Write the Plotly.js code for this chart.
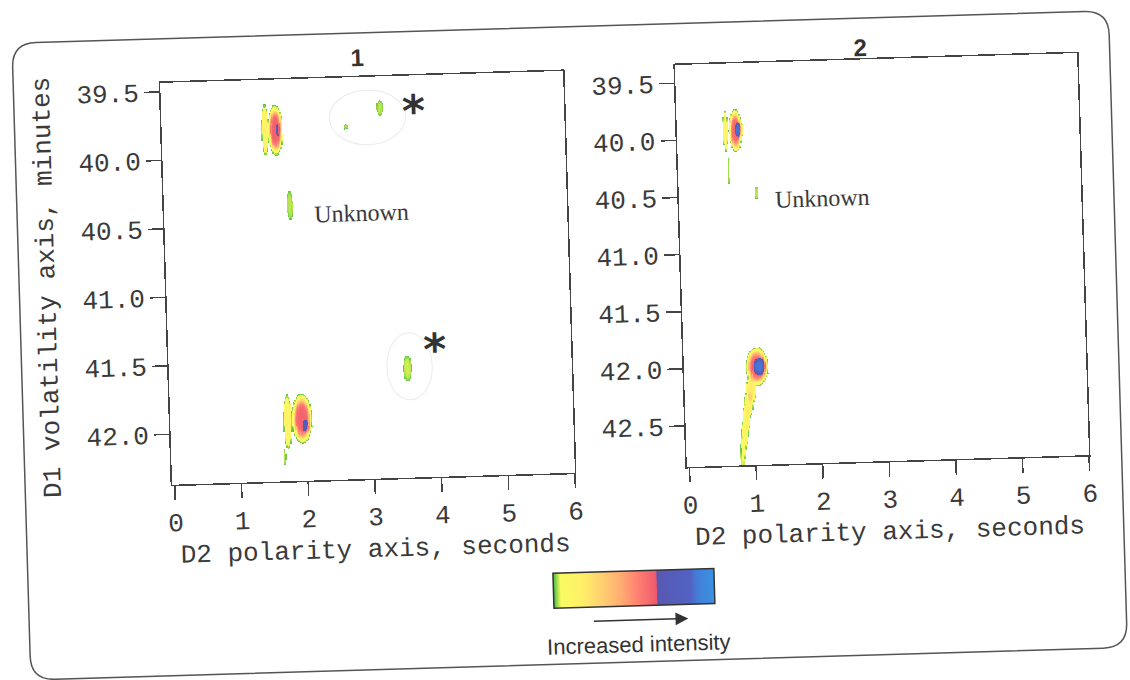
<!DOCTYPE html>
<html><head><meta charset="utf-8">
<script src="https://cdn.plot.ly/plotly-3.0.1.min.js"></script>
<style>
html,body{margin:0;padding:0;background:#fff;overflow:hidden;}
#chart{width:1130px;height:680px;transform:rotate(-1.7deg);transform-origin:565px 340px;}
</style></head><body><div id="chart"></div>
<script>
// ---- text ----
const panelTitles = ['1', '2'];
const xTitle = 'D2 polarity axis, seconds';
const yTitle = 'D1 volatility axis, minutes';
const peakLabel = 'Unknown';
const legendLabel = 'Increased intensity';

// ---- tick values ----
const xTickVals = [0, 1, 2, 3, 4, 5, 6];
const y1TickVals = [39.5, 40.0, 40.5, 41.0, 41.5, 42.0];
const y2TickVals = [39.5, 40.0, 40.5, 41.0, 41.5, 42.0, 42.5];

// ---- panel 1 peak components (D2 s, D1 min, spread D2, spread D1, relative intensity) ----
const p1X   = [1.665, 1.70, 1.51, 1.85, 3.24, 2.72, 3.54, 1.935, 2.00, 1.72, 1.665];
const p1Y   = [39.805, 39.80, 39.80, 40.355, 39.665, 39.796, 41.57, 41.915, 41.975, 41.935, 42.19];
const p1SX  = [0.08, 0.025, 0.041, 0.041, 0.041, 0.03, 0.052, 0.107, 0.05, 0.048, 0.014];
const p1SY  = [0.128, 0.04, 0.138, 0.09, 0.05, 0.016, 0.08, 0.128, 0.045, 0.148, 0.05];
const p1Amp = [0.62, 0.06, 0.15, 0.03, 0.03, 0.025, 0.035, 0.61, 0.15, 0.15, 0.03];

// ---- panel 2 peak components ----
const p2X   = [0.84, 0.89, 0.69, 0.72, 1.13, 1.06, 1.105, 0.96, 0.92, 0.88, 0.85, 0.82, 0.80];
const p2Y   = [39.93, 39.92, 39.93, 40.28, 40.48, 42.00, 42.00, 42.20, 42.32, 42.45, 42.58, 42.70, 42.82];
const p2SX  = [0.07, 0.05, 0.03, 0.012, 0.02, 0.12, 0.085, 0.055, 0.05, 0.045, 0.04, 0.033, 0.026];
const p2SY  = [0.13, 0.055, 0.14, 0.10, 0.05, 0.12, 0.065, 0.09, 0.09, 0.09, 0.09, 0.09, 0.08];
const p2Amp = [0.59, 0.3, 0.12, 0.025, 0.03, 0.59, 0.3, 0.2, 0.15, 0.12, 0.09, 0.06, 0.04];

// asterisk-marked peaks (D2, D1) for labels
const starX = [3.74, 3.95];
const starY = [39.613, 41.355];

const colorscale = [
  [0, '#3fb84a'], [0.025, '#a6df4a'], [0.045, '#fafa62'], [0.18, '#fff068'],
  [0.3, '#ffd070'], [0.42, '#ffac72'], [0.52, '#ff8272'], [0.64, '#ef5a6c'],
  [0.645, '#5858b2'], [0.85, '#5262c2'], [0.9, '#4280d8'], [1, '#3a92e2']
];

function grid(a, b, step) { const o = []; for (let v = a; v <= b + 1e-9; v += step) o.push(+v.toFixed(4)); return o; }
function field(xs, ys, PX, PY, SX, SY, A) {
  return ys.map(y => xs.map(x => {
    let z = 0;
    for (let i = 0; i < PX.length; i++) {
      const dx = (x - PX[i]) / SX[i], dy = (y - PY[i]) / SY[i];
      const r2 = dx * dx + dy * dy;
      z += A[i] * Math.exp(-0.5 * r2 * r2 * r2);
    }
    return z < 0.008 ? null : z;
  }));
}

const g1x = grid(1.2, 4.0, 0.02), g1y = grid(39.45, 42.36, 0.008);
const g2x = grid(0.4, 1.6, 0.02), g2y = grid(39.5, 42.86, 0.008);

const tickFont = {family: '"Liberation Mono", "Courier New", monospace', size: 26, color: '#3a3a3a'};
const titleFont = {family: '"Liberation Mono", "Courier New", monospace', size: 26, color: '#3a3a3a'};
const lineC = '#444';

const traces = [
  {type: 'heatmap', x: g1x, y: g1y, z: field(g1x, g1y, p1X, p1Y, p1SX, p1SY, p1Amp),
   coloraxis: 'coloraxis', xaxis: 'x', yaxis: 'y', hoverinfo: 'skip'},
  {type: 'heatmap', x: g2x, y: g2y, z: field(g2x, g2y, p2X, p2Y, p2SX, p2SY, p2Amp),
   coloraxis: 'coloraxis', xaxis: 'x2', yaxis: 'y2', hoverinfo: 'skip'}
];

function xa(domain) {
  return {domain: domain, range: [-0.04, 6.0], tickvals: xTickVals, ticks: 'outside', ticklen: 14,
    tickwidth: 1.5, tickcolor: lineC, showline: true, mirror: true, linecolor: lineC, linewidth: 1.5,
    showgrid: false, zeroline: false, tickfont: tickFont,
    title: {text: xTitle, font: titleFont, standoff: 6}};
}
function ya(domain, range, ticks, withTitle, anchor) {
  const o = {domain: domain, range: range, tickvals: ticks, tickformat: '.1f', ticks: 'outside', ticklen: 15,
    tickwidth: 1.5, tickcolor: lineC, showline: true, mirror: true, linecolor: lineC, linewidth: 1.5,
    showgrid: false, zeroline: false, tickfont: tickFont, anchor: anchor};
  if (withTitle) o.title = {text: yTitle, font: titleFont, standoff: 19};
  return o;
}

const titleFontB = {family: '"Liberation Sans", Arial, sans-serif', size: 24, color: '#333'};
const serifFont = {family: '"Liberation Serif", "Times New Roman", serif', size: 24, color: '#3a3a3a'};
const starFont = {family: '"DejaVu Sans", sans-serif', size: 44, color: '#333'};

const layout = {
  width: 1130, height: 680, margin: {l: 0, r: 0, t: 0, b: 0},
  paper_bgcolor: '#ffffff', plot_bgcolor: '#ffffff', showlegend: false,
  xaxis: Object.assign(xa([168 / 1130, 571 / 1130]), {anchor: 'y'}),
  yaxis: ya([1 - 473 / 680, 1 - 71 / 680], [42.368, 39.434], y1TickVals, true, 'x'),
  xaxis2: Object.assign(xa([683 / 1130, 1085.4 / 1130]), {anchor: 'y2'}),
  yaxis2: ya([1 - 470.6 / 680, 1 - 68.4 / 680], [42.86, 39.34], y2TickVals, false, 'x2'),
  coloraxis: {colorscale: colorscale, cmin: 0, cmax: 1,
    colorbar: {orientation: 'h', x: 626 / 1130, xanchor: 'center', y: 1 - 591.4 / 680, yanchor: 'middle',
      len: 161, lenmode: 'pixels', thickness: 35, thicknessmode: 'pixels', outlinewidth: 1.5,
      outlinecolor: '#333', showticklabels: false, ticks: '', xpad: 0, ypad: 0, borderwidth: 0}},
  shapes: [
    {type: 'path', xref: 'paper', yref: 'paper', line: {color: '#555', width: 1.5},
     path: (() => {
       const L = 21 / 1130, R = 1118 / 1130, T = 1 - 27 / 680, B = 1 - 664 / 680, rx = 24 / 1130, ry = 24 / 680;
       return `M ${L + rx} ${T} L ${R - rx} ${T} Q ${R} ${T} ${R} ${T - ry} L ${R} ${B + ry} Q ${R} ${B} ${R - rx} ${B} ` +
              `L ${L + rx} ${B} Q ${L} ${B} ${L} ${B + ry} L ${L} ${T - ry} Q ${L} ${T} ${L + rx} ${T} Z`;
     })()},
    {type: 'circle', xref: 'x', yref: 'y', x0: 2.48, x1: 3.62, y0: 39.53, y1: 39.93, line: {color: '#ebebeb', width: 1}},
    {type: 'circle', xref: 'x', yref: 'y', x0: 3.23, x1: 3.91, y0: 41.31, y1: 41.80, line: {color: '#ebebeb', width: 1}}
  ],
  annotations: [
    {xref: 'x', yref: 'paper', x: 2.92, y: 1 - 52 / 680, xanchor: 'center', yanchor: 'middle',
     text: '<b>' + panelTitles[0] + '</b>', showarrow: false, font: titleFontB},
    {xref: 'x2', yref: 'paper', x: 2.75, y: 1 - 56 / 680, xanchor: 'center', yanchor: 'middle',
     text: '<b>' + panelTitles[1] + '</b>', showarrow: false, font: titleFontB},
    {xref: 'x', yref: 'y', x: 2.92, y: 40.427, text: peakLabel, showarrow: false, font: serifFont},
    {xref: 'x2', yref: 'y2', x: 2.11, y: 40.544, text: peakLabel, showarrow: false, font: serifFont},
    {xref: 'x', yref: 'y', x: starX[0], y: starY[0], text: '<b>*</b>', showarrow: false, yshift: -11, font: starFont},
    {xref: 'x', yref: 'y', x: starX[1], y: starY[1], text: '<b>*</b>', showarrow: false, yshift: -11, font: starFont},
    {xref: 'paper', yref: 'paper', x: 680 / 1130, y: 1 - 622 / 680, ax: -96, ay: 0, text: '', showarrow: true,
     arrowhead: 2, arrowsize: 1.6, arrowwidth: 1.6, arrowcolor: '#333'},
    {xref: 'paper', yref: 'paper', x: 629 / 1130, y: 1 - 646 / 680, xanchor: 'center', yanchor: 'middle',
     text: legendLabel, showarrow: false,
     font: {family: '"Liberation Sans", Arial, sans-serif', size: 22, color: '#333'}}
  ]
};

Plotly.newPlot('chart', traces, layout, {staticPlot: true, displayModeBar: false});
</script></body></html>
